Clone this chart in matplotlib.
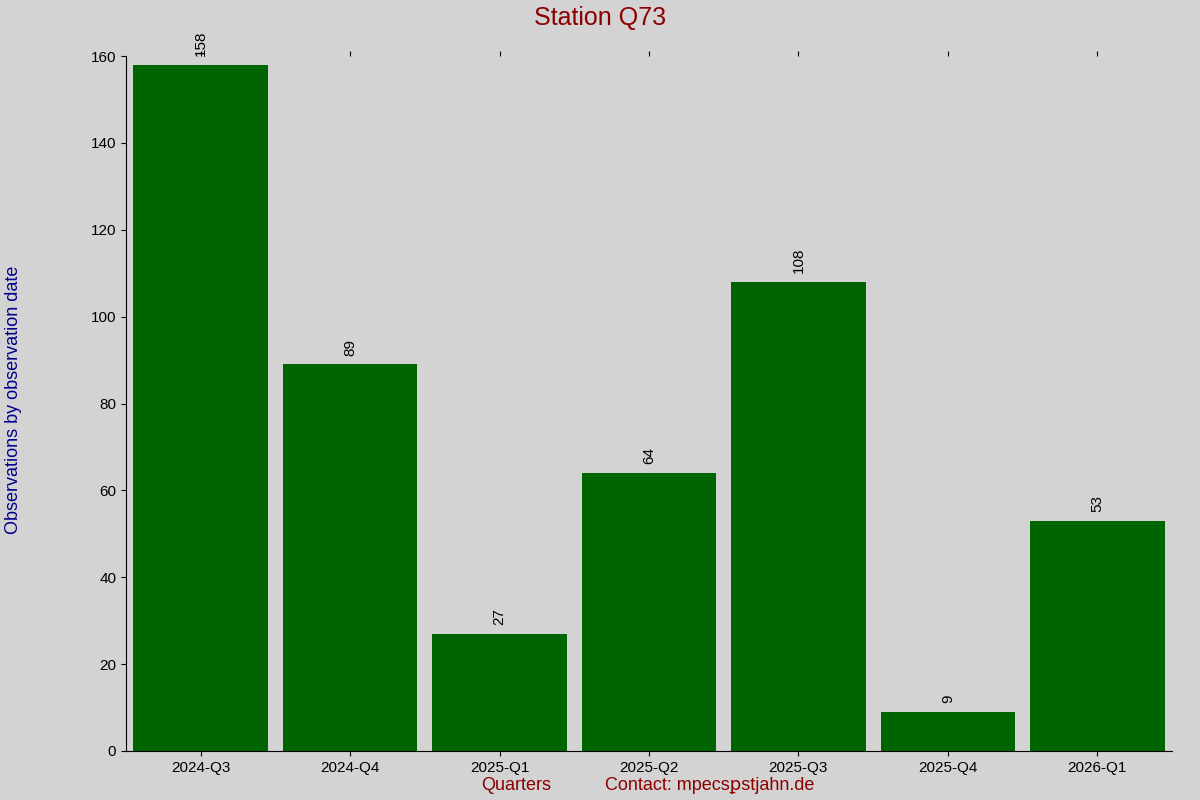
import matplotlib
matplotlib.use("Agg")
import matplotlib.pyplot as plt

quarters = ["2024-Q3", "2024-Q4", "2025-Q1", "2025-Q2", "2025-Q3", "2025-Q4", "2026-Q1"]
counts = [158, 89, 27, 64, 108, 9, 53]

plt.rcParams['font.family'] = ['Liberation Sans', 'DejaVu Sans']
bg = "#d3d3d3"

fig = plt.figure(figsize=(12, 8), dpi=100, facecolor=bg)
ax = fig.add_axes([126/1200, 1 - 751/800, (1172-126)/1200, (751-56)/800], facecolor=bg)

x = range(len(quarters))
ax.bar(x, counts, width=0.9, color="#006400")
for i, v in zip(x, counts):
    ax.text(i, v + 2, str(v), rotation=90, ha="center", va="bottom", fontsize=11)

ax.set_xlim(-0.5, 6.5)
ax.set_ylim(0, 160)
ax.set_xticks(list(x))
ax.set_xticklabels(quarters, fontsize=11)
ax.tick_params(axis="y", labelsize=11)
ax.tick_params(top=True, direction="out")
ax.spines["top"].set_visible(False)
ax.spines["right"].set_visible(False)

fig.text(0.5, 1 - 18/800, "Station Q73", ha="center", va="center", fontsize=18, color="#8b0000")
fig.text(14/1200, 0.5, "Observations by observation date", rotation=90, ha="center", va="center",
         fontsize=13, color="#00008b")
fig.text(516/1200, 1 - 786/800, "Quarters", ha="center", va="center", fontsize=13, color="#8b0000")
fig.text(710/1200, 1 - 786/800, "Contact: mpecsꝑstjahn.de", ha="center", va="center",
         fontsize=13, color="#8b0000")

fig.savefig("out.png", dpi=100, facecolor=bg)
